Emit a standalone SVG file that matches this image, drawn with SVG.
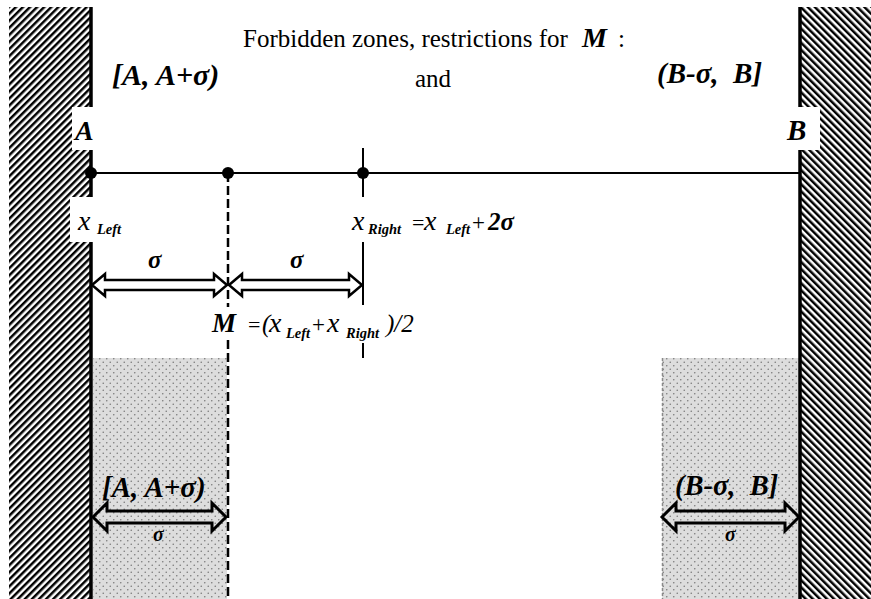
<svg xmlns="http://www.w3.org/2000/svg" width="871" height="599" viewBox="0 0 871 599">
<defs>
<pattern id="hatchL" width="5" height="5" patternUnits="userSpaceOnUse" patternTransform="rotate(45)">
<rect width="5" height="5" fill="#fff"/><rect width="2.5" height="5" fill="#000"/>
</pattern>
<pattern id="hatchR" width="5" height="5" patternUnits="userSpaceOnUse" patternTransform="rotate(-45)">
<rect width="5" height="5" fill="#fff"/><rect width="2.5" height="5" fill="#000"/>
</pattern>
<pattern id="dots" width="7" height="7" patternUnits="userSpaceOnUse">
<rect width="7" height="7" fill="#dddddd"/>
<circle cx="1.75" cy="1.75" r="0.8" fill="#7a7a7a"/>
<circle cx="5.25" cy="5.25" r="0.8" fill="#7a7a7a"/>
</pattern>
</defs>
<style>
.t{font-family:"Liberation Serif","Times New Roman","DejaVu Serif",serif;fill:#000}
.r{font-size:25px}
.bi{font-weight:bold;font-style:italic}
.i{font-style:italic}
.sub{font-weight:bold;font-style:italic;font-size:14.5px}
.ln{stroke:#000;stroke-width:2;fill:none}
.dash{stroke:#000;stroke-width:2.5;stroke-dasharray:9 4;fill:none}
.arr{fill:#fff;stroke:#000;stroke-width:2.5;stroke-linejoin:miter}
.arrB{fill:none;stroke:#000;stroke-width:3;stroke-linejoin:miter}
</style>
<rect width="871" height="599" fill="#fff"/>

<g id="zone-left">
<rect x="93" y="358" width="134" height="241" fill="url(#dots)"/>
</g>
<g id="zone-right">
<rect x="662" y="358" width="137" height="241" fill="url(#dots)"/>
<line x1="662.5" y1="358" x2="662.5" y2="599" stroke="#8a8a8a" stroke-width="1.5" stroke-dasharray="3 2"/>
</g>

<g id="wall-left">
<rect x="9" y="7" width="83" height="592" fill="url(#hatchL)"/>
<rect x="72" y="107" width="22" height="43" fill="#fff"/>
<rect x="70" y="197" width="24" height="45" fill="#fff"/>
<line x1="91" y1="7" x2="91" y2="107" stroke="#000" stroke-width="3.5"/>
<line x1="91" y1="150" x2="91" y2="197" stroke="#000" stroke-width="3.5"/>
<line x1="91" y1="242" x2="91" y2="599" stroke="#000" stroke-width="3.5"/>
</g>
<g id="wall-right">
<rect x="799" y="7" width="72" height="592" fill="url(#hatchR)"/>
<rect x="797" y="107" width="23" height="43" fill="#fff"/>
<line x1="800" y1="7" x2="800" y2="107" stroke="#000" stroke-width="3.5"/>
<line x1="800" y1="150" x2="800" y2="599" stroke="#000" stroke-width="3.5"/>
</g>

<g id="connectors">
<line class="ln" x1="91" y1="173" x2="800" y2="173"/>
<line class="dash" x1="228" y1="173" x2="228" y2="307"/>
<line class="dash" x1="228" y1="340" x2="228" y2="599"/>
<line class="ln" x1="363" y1="148" x2="363" y2="197"/>
<line class="ln" x1="363" y1="242" x2="363" y2="305"/>
<line class="ln" x1="363" y1="343" x2="363" y2="358"/>
<polygon class="arr" points="92,285 105,274 105,280 214,280 214,274 227,285 214,296 214,290 105,290 105,296"/>
<polygon class="arr" points="229,285 242,274 242,280 349,280 349,274 362,285 349,296 349,290 242,290 242,296"/>
<polygon class="arrB" points="93,517 107,503 107,511 212,511 212,503 226,517 212,531 212,523 107,523 107,531"/>
<polygon class="arrB" points="662,517 676,503 676,511 785,511 785,503 799,517 785,531 785,523 676,523 676,531"/>
</g>

<g id="points">
<circle cx="91" cy="173" r="6" fill="#000"/>
<circle cx="228" cy="173" r="6" fill="#000"/>
<circle cx="363" cy="173" r="6" fill="#000"/>
</g>

<g id="title">
<text class="t r" x="243" y="47">Forbidden zones, restrictions for</text>
<text class="t bi" x="582" y="47" font-size="28">M</text>
<text class="t r" x="618" y="47">:</text>
<text class="t r" x="415" y="87">and</text>
</g>

<g id="labels-top">
<text class="t bi" x="112" y="85" font-size="30">[A, A+σ)</text>
<text class="t bi" x="657" y="83" font-size="29">(B-σ,&#160; B]</text>
<text class="t bi" x="75" y="140" font-size="28">A</text>
<text class="t bi" x="787" y="140" font-size="29">B</text>
</g>

<g id="label-xleft">
<text class="t i" x="78" y="230" font-size="28">x</text>
<text class="t sub" x="97" y="234">Left</text>
</g>

<g id="label-xright">
<text class="t i" x="352" y="230" font-size="28">x</text>
<text class="t sub" x="368" y="234" font-size="15">Right</text>
<text class="t" x="412" y="230" font-size="22">=</text>
<text class="t i" x="424" y="230" font-size="28">x</text>
<text class="t sub" x="446" y="234">Left</text>
<text class="t" x="472" y="230" font-size="23">+</text>
<text class="t bi" x="488" y="230" font-size="25">2σ</text>
</g>

<g id="sigma-labels">
<text class="t bi" x="148" y="268" font-size="25">σ</text>
<text class="t bi" x="290" y="268" font-size="25">σ</text>
</g>

<g id="label-m">
<text class="t bi" x="212" y="332" font-size="27">M</text>
<text class="t" x="248" y="332" font-size="22">=</text>
<text class="t i" x="262" y="332" font-size="25">(</text>
<text class="t i" x="269" y="332" font-size="28">x</text>
<text class="t sub" x="286" y="338">Left</text>
<text class="t" x="312" y="332" font-size="23">+</text>
<text class="t i" x="327" y="332" font-size="28">x</text>
<text class="t sub" x="346" y="338" font-size="15">Right</text>
<text class="t i" x="386" y="332" font-size="25">)/2</text>
</g>

<g id="labels-bottom">
<text class="t bi" x="102" y="497" font-size="29">[A, A+σ)</text>
<text class="t bi" x="153" y="541" font-size="20">σ</text>
<text class="t bi" x="675" y="495" font-size="28.5">(B-σ,&#160; B]</text>
<text class="t bi" x="725" y="541" font-size="20">σ</text>
</g>
</svg>
